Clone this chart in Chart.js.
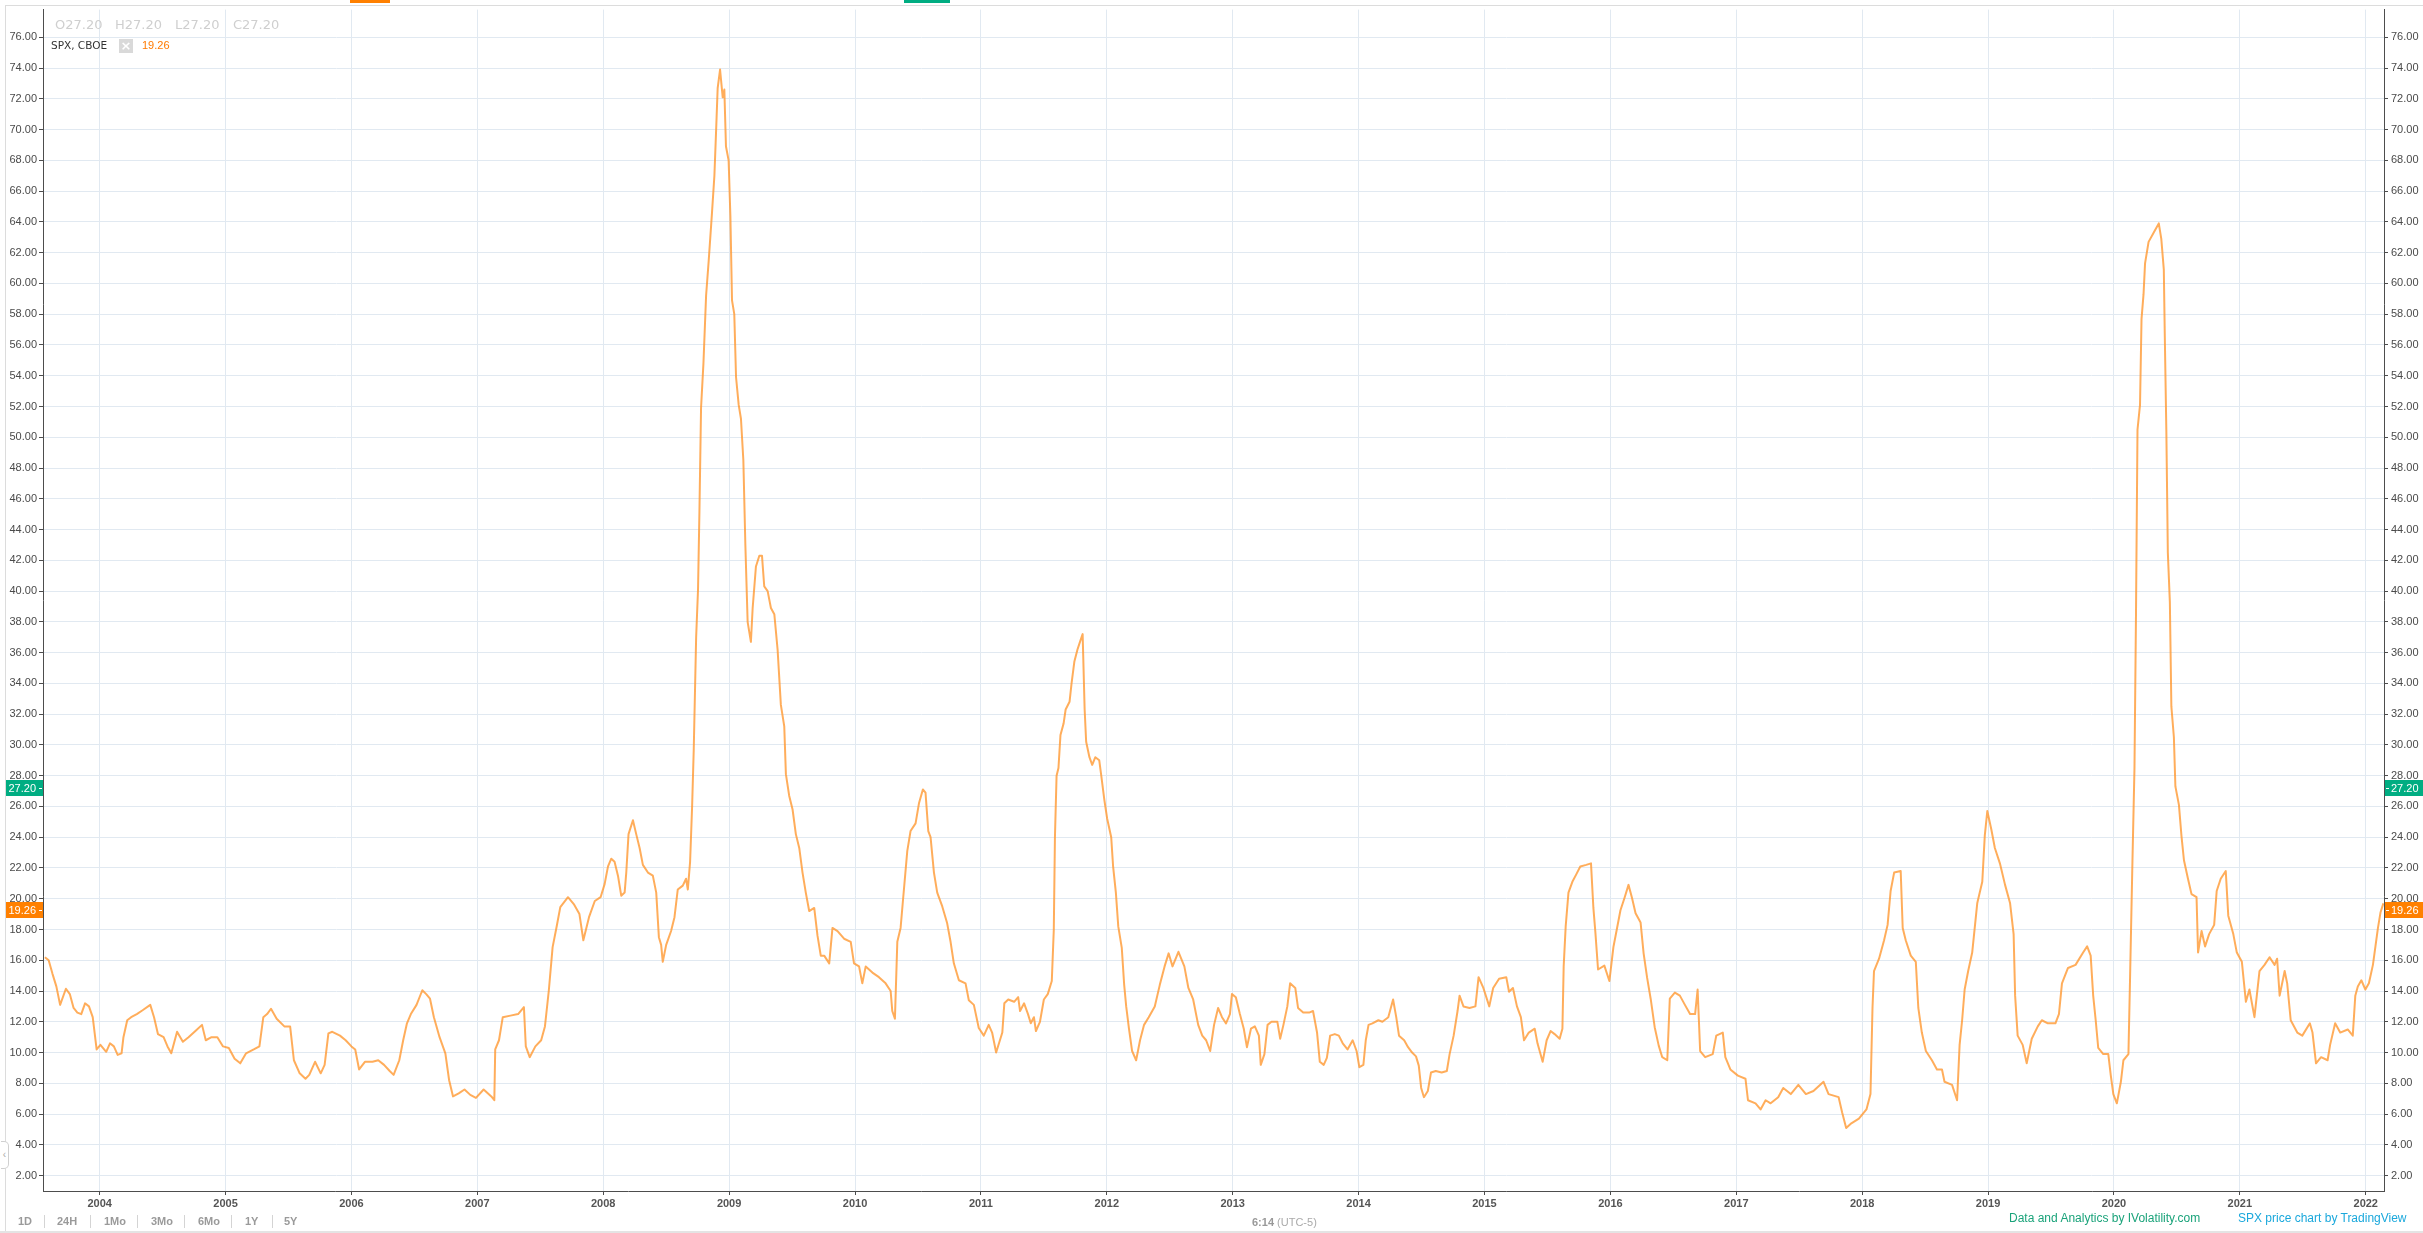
<!DOCTYPE html>
<html>
<head>
<meta charset="utf-8">
<script src="https://cdn.jsdelivr.net/npm/chart.js@4/dist/chart.umd.min.js"></script>
<style>
  html,body{margin:0;padding:0;background:#fff;}
  #wrap{position:relative;width:2423px;height:1233px;overflow:hidden;background:#fff;}
  #c{position:absolute;left:0;top:0;}
  .t{position:absolute;white-space:nowrap;}
  .ohlc{font:13px "DejaVu Sans",sans-serif;color:#cfcfcf;top:17px;line-height:16px;}
  .tb{font:bold 11px "Liberation Sans",Arial,sans-serif;color:#9a9a9a;top:1214px;line-height:14px;}
  .sep{position:absolute;top:1215px;width:1px;height:13px;background:#d4d4d4;}
</style>
</head>
<body>
<div id="wrap">
  <canvas id="c" width="2423" height="1233"></canvas>
  <div style="position:absolute;left:5px;top:5px;width:2418px;height:1226px;border-left:1px solid #dcdcdc;border-top:1px solid #dcdcdc;pointer-events:none;"></div>
  <div style="position:absolute;left:0;top:1231px;width:2423px;height:2px;background:#e4e4e4;"></div>
  <div style="position:absolute;left:350px;top:0;width:40px;height:3px;background:#ff8000;"></div>
  <div style="position:absolute;left:904px;top:0;width:46px;height:3px;background:#00ad82;"></div>

  <div class="t ohlc" style="left:55px;">O27.20</div>
  <div class="t ohlc" style="left:115px;">H27.20</div>
  <div class="t ohlc" style="left:175px;">L27.20</div>
  <div class="t ohlc" style="left:233px;">C27.20</div>

  <div class="t" style="left:51px;top:38px;font:10.5px 'DejaVu Sans',sans-serif;color:#333;line-height:14px;">SPX, CBOE</div>
  <div class="t" style="left:119px;top:39px;width:14px;height:14px;background:#d9d9d9;color:#fff;font:bold 13px 'DejaVu Sans',sans-serif;line-height:14px;text-align:center;">×</div>
  <div class="t" style="left:142px;top:38px;font:11px 'Liberation Sans',Arial,sans-serif;color:#ff7a00;line-height:14px;">19.26</div>

  <div style="position:absolute;left:1px;top:1141px;width:7px;height:26px;border:1px solid #d0d0d0;border-left:none;border-radius:0 5px 5px 0;background:#fff;color:#aaa;font:10px Arial;line-height:26px;text-align:center;">‹</div>

  <div class="t tb" style="left:18px;">1D</div>
  <div class="sep" style="left:44px;"></div>
  <div class="t tb" style="left:57px;">24H</div>
  <div class="sep" style="left:90px;"></div>
  <div class="t tb" style="left:104px;">1Mo</div>
  <div class="sep" style="left:137px;"></div>
  <div class="t tb" style="left:151px;">3Mo</div>
  <div class="sep" style="left:184px;"></div>
  <div class="t tb" style="left:198px;">6Mo</div>
  <div class="sep" style="left:231px;"></div>
  <div class="t tb" style="left:245px;">1Y</div>
  <div class="sep" style="left:272px;"></div>
  <div class="t tb" style="left:284px;">5Y</div>

  <div class="t" style="left:1252px;top:1215px;font:11px 'Liberation Sans',Arial,sans-serif;color:#aaa;line-height:14px;"><b style="color:#999">6:14</b> (UTC-5)</div>

  <div class="t" style="left:2009px;top:1211px;font:12px 'Liberation Sans',Arial,sans-serif;color:#1aa37a;line-height:14px;">Data and Analytics by IVolatility.com</div>
  <div class="t" style="left:2238px;top:1211px;font:12px 'Liberation Sans',Arial,sans-serif;color:#1aa8dc;line-height:14px;">SPX price chart by TradingView</div>
</div>
<script>
// ---- data (decimal year, value) ----
const dates = [
2003.565,2003.595,2003.626,2003.656,2003.686,2003.732,2003.763,2003.793,2003.823,2003.854,2003.884,2003.915,2003.945,2003.976,
2004.006,2004.052,2004.082,2004.113,2004.143,2004.174,2004.189,2004.219,2004.25,2004.295,2004.341,2004.402,2004.432,2004.463,2004.508,2004.539,2004.569,2004.615,2004.661,2004.706,2004.767,2004.813,2004.843,2004.889,2004.935,2004.98,
2005.026,2005.072,2005.117,2005.163,2005.224,2005.269,2005.3,2005.33,2005.361,2005.406,2005.467,2005.513,2005.543,2005.589,2005.635,2005.665,2005.711,2005.756,2005.787,2005.817,2005.848,2005.909,2005.954,
2006.0,2006.03,2006.061,2006.107,2006.167,2006.213,2006.259,2006.304,2006.335,2006.38,2006.411,2006.441,2006.472,2006.517,2006.563,2006.594,2006.624,2006.655,2006.7,2006.746,2006.776,2006.807,2006.852,2006.898,2006.944,2006.989,
2007.05,2007.111,2007.135,2007.142,2007.172,2007.202,2007.263,2007.324,2007.37,2007.385,2007.416,2007.461,2007.507,2007.537,2007.568,2007.598,2007.629,2007.659,2007.72,2007.766,2007.811,2007.842,2007.887,2007.933,2007.979,
2008.011,2008.038,2008.064,2008.09,2008.117,2008.143,2008.17,2008.183,2008.201,2008.236,2008.262,2008.289,2008.315,2008.355,2008.394,2008.421,2008.442,2008.46,2008.473,2008.5,2008.539,2008.566,2008.592,2008.632,2008.658,2008.672,2008.69,2008.706,2008.719,2008.738,2008.753,2008.764,2008.777,2008.796,2008.817,2008.838,2008.864,2008.883,2008.896,2008.909,2008.928,2008.949,2008.962,2008.975,2008.996,
2009.01,2009.023,2009.041,2009.055,2009.076,2009.094,2009.113,2009.129,2009.147,2009.173,2009.187,2009.213,2009.24,2009.261,2009.279,2009.306,2009.332,2009.359,2009.385,2009.411,2009.438,2009.451,2009.477,2009.504,2009.53,2009.557,2009.583,2009.609,2009.636,2009.676,2009.702,2009.728,2009.755,2009.795,2009.821,2009.861,2009.913,2009.966,2009.992,
2010.032,2010.058,2010.085,2010.138,2010.19,2010.243,2010.283,2010.296,2010.317,2010.336,2010.362,2010.381,2010.415,2010.441,2010.481,2010.508,2010.539,2010.56,2010.582,2010.6,2010.627,2010.653,2010.693,2010.732,2010.759,2010.785,2010.825,2010.878,2010.904,2010.944,2010.983,
2011.023,2011.062,2011.089,2011.121,2011.17,2011.186,2011.217,2011.264,2011.296,2011.311,2011.343,2011.374,2011.396,2011.421,2011.437,2011.469,2011.5,2011.531,2011.563,2011.579,2011.588,2011.601,2011.616,2011.632,2011.657,2011.673,2011.704,2011.72,2011.742,2011.767,2011.789,2011.808,2011.824,2011.836,2011.862,2011.884,2011.909,2011.94,2011.956,2011.981,
2012.003,2012.035,2012.05,2012.072,2012.091,2012.119,2012.138,2012.154,2012.176,2012.201,2012.233,2012.264,2012.296,2012.333,2012.381,2012.421,2012.459,2012.491,2012.522,2012.569,2012.616,2012.648,2012.686,2012.726,2012.758,2012.789,2012.821,2012.852,2012.884,2012.915,2012.947,2012.978,2012.994,
2013.025,2013.057,2013.088,2013.113,2013.145,2013.176,2013.208,2013.223,2013.252,2013.277,2013.308,2013.355,2013.377,2013.403,2013.434,2013.456,2013.497,2013.519,2013.56,2013.607,2013.638,2013.67,2013.692,2013.723,2013.748,2013.774,2013.811,2013.843,2013.874,2013.912,2013.953,2013.984,
2014.006,2014.038,2014.057,2014.079,2014.11,2014.157,2014.189,2014.236,2014.274,2014.299,2014.321,2014.362,2014.393,2014.425,2014.456,2014.478,2014.497,2014.519,2014.55,2014.575,2014.613,2014.66,2014.701,2014.723,2014.755,2014.786,2014.802,2014.833,2014.881,2014.928,2014.953,2014.991,
2015.038,2015.069,2015.116,2015.173,2015.195,2015.226,2015.258,2015.289,2015.314,2015.352,2015.399,2015.421,2015.462,2015.494,2015.525,2015.557,2015.597,2015.619,2015.629,2015.645,2015.667,2015.698,2015.73,2015.761,2015.808,2015.846,2015.865,2015.881,2015.902,2015.952,2015.992,
2016.024,2016.052,2016.08,2016.112,2016.144,2016.172,2016.2,2016.24,2016.264,2016.292,2016.32,2016.352,2016.384,2016.412,2016.452,2016.472,2016.512,2016.552,2016.592,2016.633,2016.673,2016.693,2016.713,2016.753,2016.813,2016.841,2016.893,2016.913,2016.953,
2017.013,2017.073,2017.093,2017.153,2017.193,2017.233,2017.273,2017.333,2017.373,2017.433,2017.493,2017.553,2017.613,2017.693,2017.733,2017.813,2017.841,2017.873,2017.914,2017.974,
2018.034,2018.066,2018.082,2018.094,2018.134,2018.174,2018.202,2018.226,2018.254,2018.306,2018.322,2018.346,2018.386,2018.426,2018.446,2018.474,2018.506,2018.554,2018.594,2018.634,2018.654,2018.714,2018.754,2018.774,2018.794,2018.814,2018.842,2018.874,2018.914,2018.954,2018.974,2018.994,
2019.026,2019.054,2019.094,2019.135,2019.175,2019.203,2019.215,2019.235,2019.275,2019.307,2019.347,2019.395,2019.427,2019.475,2019.535,2019.563,2019.587,2019.635,2019.695,2019.755,2019.787,2019.815,2019.835,2019.855,2019.875,2019.915,2019.955,2019.975,2019.995,
2020.023,2020.055,2020.075,2020.115,2020.127,2020.147,2020.163,2020.175,2020.187,2020.207,2020.219,2020.235,2020.247,2020.275,2020.315,2020.356,2020.376,2020.396,2020.404,2020.416,2020.428,2020.444,2020.456,2020.476,2020.488,2020.516,2020.536,2020.556,2020.588,2020.616,2020.656,2020.668,2020.696,2020.724,2020.756,2020.796,2020.816,2020.848,2020.888,2020.908,2020.948,2020.976,
2021.016,2021.048,2021.076,2021.116,2021.156,2021.196,2021.236,2021.276,2021.296,2021.316,2021.356,2021.376,2021.404,2021.456,2021.496,2021.556,2021.577,2021.605,2021.645,2021.697,2021.717,2021.757,2021.797,2021.857,2021.897,2021.917,2021.937,2021.965,2021.997,
2022.025,2022.057,2022.077,2022.097,2022.117,2022.14
];
const values = [
16.2,16.0,15.1,14.3,13.1,14.15,13.8,12.9,12.6,12.5,13.2,13.0,12.3,10.2,
10.5,10.05,10.6,10.4,9.85,9.95,11.0,12.1,12.3,12.5,12.75,13.1,12.3,11.2,11.0,10.4,9.95,11.35,10.7,11.0,11.45,11.8,10.8,11.0,11.0,10.4,
10.3,9.6,9.3,9.95,10.2,10.4,12.3,12.5,12.85,12.2,11.7,11.7,9.5,8.65,8.3,8.55,9.4,8.65,9.2,11.25,11.35,11.1,10.8,
10.4,10.2,8.9,9.4,9.4,9.5,9.2,8.8,8.55,9.5,10.8,11.9,12.5,13.1,14.05,13.8,13.5,12.3,11.0,9.95,8.2,7.15,7.35,7.6,7.25,7.05,
7.6,7.15,6.9,10.2,10.8,12.3,12.4,12.5,12.95,10.4,9.7,10.4,10.8,11.7,14.05,16.85,18.15,19.45,20.1,19.65,19.0,17.3,18.8,19.85,20.1,
20.95,22.1,22.6,22.4,21.5,20.2,20.4,21.7,24.2,25.1,24.2,23.3,22.2,21.7,21.5,20.4,17.5,17.0,15.9,17.0,17.9,18.8,20.6,20.85,21.3,20.6,22.4,26.0,29.7,37.0,40.1,45.1,51.9,54.8,59.2,61.5,64.6,67.0,69.8,72.7,73.9,72.1,72.6,68.9,68.0,
64.4,58.9,58.0,53.9,52.1,51.2,48.5,43.0,38.0,36.7,38.9,41.6,42.3,42.3,40.3,40.0,38.9,38.5,36.2,32.6,31.2,28.1,26.7,25.8,24.2,23.3,21.7,20.4,19.2,19.4,17.6,16.3,16.3,15.8,18.1,17.9,17.4,17.2,15.8,
15.6,14.5,15.6,15.2,14.9,14.5,14.0,12.7,12.2,17.2,18.1,19.9,23.1,24.4,24.9,26.2,27.1,26.9,24.4,24.0,21.7,20.4,19.5,18.4,17.2,15.8,14.7,14.5,13.4,13.1,11.6,
11.1,11.8,11.3,10.0,11.3,13.2,13.45,13.3,13.6,12.7,13.2,12.5,11.9,12.3,11.4,12.0,13.45,13.8,14.65,18.0,24.0,28.0,28.5,30.65,31.4,32.3,32.8,34.0,35.4,36.2,36.75,37.2,32.3,30.2,29.2,28.7,29.2,29.0,28.0,26.4,
25.2,24.0,22.1,20.4,18.2,16.8,14.4,13.0,11.55,10.1,9.5,10.8,11.8,12.3,13.0,14.4,15.6,16.45,15.6,16.55,15.6,14.2,13.45,11.8,11.1,10.8,10.1,11.8,12.9,12.3,11.9,12.5,13.8,
13.6,12.5,11.55,10.35,11.55,11.7,11.1,9.2,9.9,11.8,12.0,12.0,10.9,11.8,13.0,14.5,14.2,12.9,12.6,12.6,12.7,11.3,9.4,9.2,9.65,11.1,11.2,11.1,10.6,10.2,10.8,10.1,
9.05,9.2,10.8,11.8,11.9,12.1,12.0,12.3,13.45,12.3,11.1,10.8,10.35,10.0,9.75,9.15,7.7,7.1,7.5,8.7,8.8,8.7,8.8,9.9,11.1,12.7,13.7,13.0,12.9,13.0,14.9,14.2,
13.0,14.2,14.8,14.9,13.95,14.2,13.0,12.3,10.8,11.3,11.55,10.6,9.4,10.8,11.4,11.2,10.9,11.55,15.6,18.2,20.4,21.1,21.6,22.1,22.2,22.3,19.4,17.8,15.4,15.65,14.65,
16.85,18.05,19.25,20.05,20.9,20.05,19.05,18.45,16.45,14.85,13.5,11.65,10.45,9.7,9.5,13.5,13.9,13.7,13.1,12.5,12.5,14.1,10.1,9.7,9.9,11.1,11.3,9.7,8.9,
8.5,8.3,6.9,6.7,6.3,6.9,6.7,7.1,7.7,7.3,7.9,7.3,7.5,8.1,7.3,7.1,6.1,5.1,5.4,5.7,
6.3,7.3,12.9,15.3,16.1,17.3,18.3,20.5,21.7,21.8,18.1,17.3,16.3,15.9,12.9,11.3,10.1,9.5,8.9,8.9,8.1,7.9,6.9,10.5,12.1,14.1,15.3,16.5,19.7,21.1,24.1,25.7,
24.5,23.3,22.3,20.9,19.7,17.7,13.7,11.1,10.5,9.3,10.9,11.7,12.1,11.9,11.9,12.5,14.5,15.5,15.7,16.5,16.9,16.3,13.7,12.1,10.3,9.9,9.9,8.5,7.3,
6.7,8.1,9.5,9.9,14.5,22.5,28.5,38.5,50.5,52.1,57.7,59.3,61.3,62.7,63.3,63.9,62.9,60.9,56.5,50.5,42.5,39.3,32.5,30.5,27.3,26.1,24.1,22.5,21.3,20.3,20.1,16.5,17.9,16.9,17.7,18.3,20.5,21.3,21.8,18.9,17.7,16.5,
15.9,13.3,14.1,12.3,15.3,15.7,16.2,15.7,16.1,13.7,15.3,14.5,12.1,11.3,11.1,11.9,11.3,9.3,9.7,9.5,10.5,11.9,11.3,11.5,11.1,13.7,14.3,14.7,14.1,
14.5,15.7,16.9,18.1,19.1,19.7
];
const yearTicks = [2004,2005,2006,2007,2008,2009,2010,2011,2012,2013,2014,2015,2016,2017,2018,2019,2020,2021,2022];
const valueTicks = [2,4,6,8,10,12,14,16,18,20,22,24,26,28,30,32,34,36,38,40,42,44,46,48,50,52,54,56,58,60,62,64,66,68,70,72,74,76];
const lastClose = 27.20;
const lastValue = 19.26;
const xRange = [2003.55, 2022.145];
const yRange = [1.0, 77.8];

const axisFont = {family:'"Liberation Sans", Arial, sans-serif', size:11};
const gridColor = '#e1e9f1';
const axisColor = '#4d4d4d';

const priceTags = {
  id:'priceTags',
  afterDraw(chart){
    const ctx = chart.ctx, ys = chart.scales.y, a = chart.chartArea;
    ctx.save();
    [[lastClose,'#00ad82'],[lastValue,'#ff8000']].forEach(([v,c])=>{
      const py = Math.round(ys.getPixelForValue(v));
      ctx.fillStyle = c;
      ctx.fillRect(6, py-8, a.left-6, 16);
      ctx.fillRect(a.right+1, py-8, 2422-a.right, 16);
      ctx.fillStyle = '#fff';
      ctx.font = '11px "Liberation Sans", Arial, sans-serif';
      ctx.textBaseline = 'middle';
      ctx.textAlign = 'right';
      ctx.fillText(v.toFixed(2), a.left-7, py+1);
      ctx.textAlign = 'left';
      ctx.fillText(v.toFixed(2), a.right+7, py+1);
      ctx.fillRect(a.left-4, py, 3, 1);
      ctx.fillRect(a.right+2, py, 3, 1);
    });
    ctx.restore();
  }
};

new Chart(document.getElementById('c'), {
  type:'line',
  data:{datasets:[{
    data: dates.map((d,i)=>({x:d, y:values[i]})),
    borderColor:'rgba(255,150,45,0.78)',
    borderWidth:2,
    pointRadius:0,
    tension:0,
    borderJoinStyle:'round',
    fill:false
  }]},
  options:{
    responsive:false,
    devicePixelRatio:1,
    animation:false,
    layout:{padding:{top:5,left:0,right:0,bottom:0}},
    plugins:{legend:{display:false},tooltip:{enabled:false},title:{display:false}},
    scales:{
      x:{
        type:'linear', min:xRange[0], max:xRange[1],
        afterBuildTicks:s=>{s.ticks = yearTicks.map(v=>({value:v}));},
        afterFit:s=>{s.height = 42;},
        grid:{color:gridColor, tickColor:axisColor, tickLength:4, drawTicks:true},
        border:{color:axisColor, width:1},
        ticks:{font:{...axisFont, weight:'bold'}, color:'#555', padding:2, autoSkip:false, maxRotation:0,
               callback:v=>String(v)}
      },
      y:{
        type:'linear', position:'left', min:yRange[0], max:yRange[1],
        afterBuildTicks:s=>{s.ticks = valueTicks.map(v=>({value:v}));},
        afterFit:s=>{s.width = 43;},
        grid:{color:gridColor, tickColor:axisColor, tickLength:4},
        border:{color:axisColor, width:1},
        ticks:{font:axisFont, color:'#4a4a4a', padding:2, callback:v=>Number(v).toFixed(2)}
      },
      y2:{
        type:'linear', position:'right', min:yRange[0], max:yRange[1],
        afterBuildTicks:s=>{s.ticks = valueTicks.map(v=>({value:v}));},
        afterFit:s=>{s.width = 39;},
        grid:{drawOnChartArea:false, tickColor:axisColor, tickLength:4},
        border:{color:axisColor, width:1},
        ticks:{font:axisFont, color:'#4a4a4a', padding:3, callback:v=>Number(v).toFixed(2)}
      }
    }
  },
  plugins:[priceTags]
});
</script>
</body>
</html>
